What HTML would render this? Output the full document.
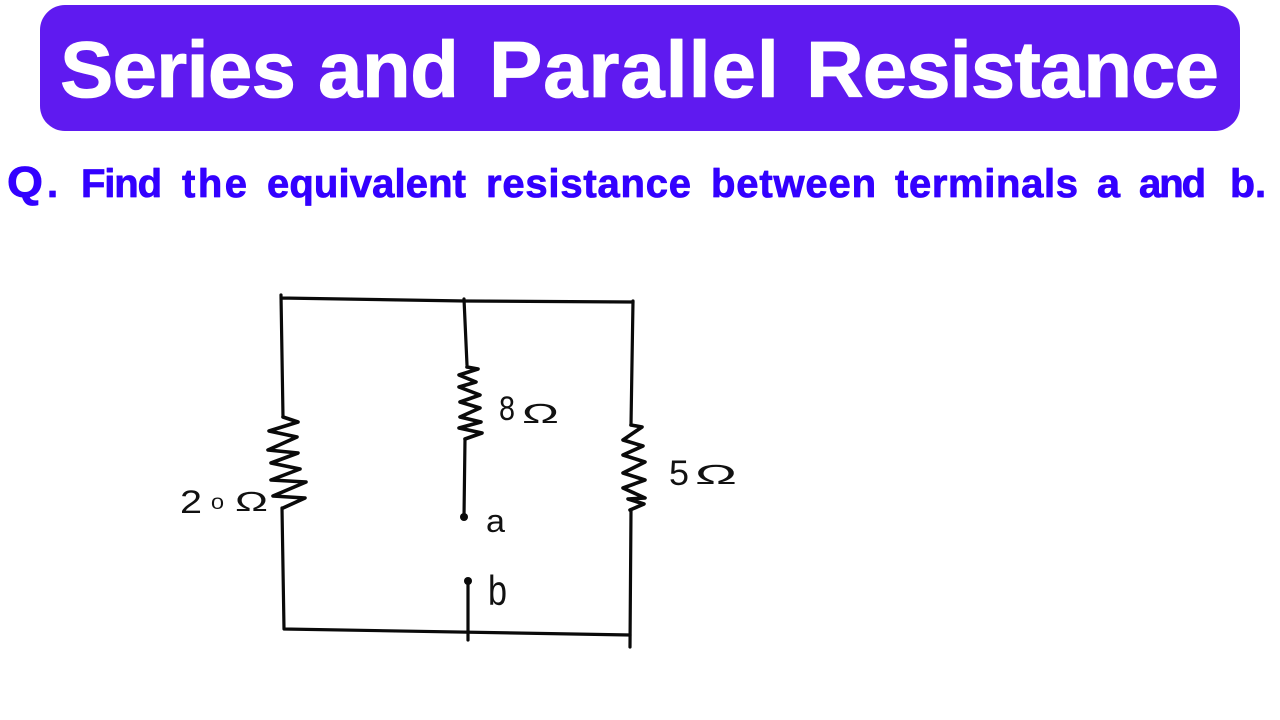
<!DOCTYPE html>
<html>
<head>
<meta charset="utf-8">
<style>
html,body{margin:0;padding:0;background:#fff;width:1280px;height:720px;overflow:hidden}
svg{display:block}
.w{fill:none;stroke:#0a0a0a;stroke-width:3.2;stroke-linecap:round;stroke-linejoin:round}
.r{fill:none;stroke:#0a0a0a;stroke-width:3.6;stroke-linecap:round;stroke-linejoin:round}
.l{font-family:"Liberation Sans","DejaVu Sans",sans-serif;fill:#111;font-weight:400}
.t{font-family:"Liberation Sans",sans-serif;font-weight:700;font-size:80px;fill:#fff;stroke:#fff;stroke-width:.8;stroke-linejoin:round}
.q{font-family:"Liberation Sans",sans-serif;font-weight:700;font-size:40px;fill:#3300ff;stroke:#3300ff;stroke-width:.8;stroke-linejoin:round}
</style>
</head>
<body>
<svg width="1280" height="720" viewBox="0 0 1280 720" xmlns="http://www.w3.org/2000/svg">
<rect width="1280" height="720" fill="#fff"/>
<rect x="40" y="5" width="1200" height="126" rx="25" fill="#5f1af0"/>
<text class="t" x="60" y="97" textLength="236">Series</text>
<text class="t" x="318" y="97" textLength="141">and</text>
<text class="t" x="489" y="97" textLength="290">Parallel</text>
<text class="t" x="806" y="97" textLength="413">Resistance</text>

<text class="q" x="7" y="197" style="font-size:44px" textLength="36" lengthAdjust="spacingAndGlyphs">Q</text>
<text class="q" x="47" y="197">.</text>
<text class="q" x="81" y="197" textLength="81">Find</text>
<text class="q" x="182" y="197" textLength="65">the</text>
<text class="q" x="267" y="197" textLength="199">equivalent</text>
<text class="q" x="486" y="197" textLength="205">resistance</text>
<text class="q" x="711" y="197" textLength="165">between</text>
<text class="q" x="895" y="197" textLength="183">terminals</text>
<text class="q" x="1097" y="197" textLength="23" lengthAdjust="spacingAndGlyphs">a</text>
<text class="q" x="1139" y="197" textLength="67">and</text>
<text class="q" x="1230" y="197" textLength="25" lengthAdjust="spacingAndGlyphs">b</text>
<text class="q" x="1255" y="197">.</text>

<path class="w" d="M281 295 L283 417 M281 298 L465 301 L633 302"/>
<path class="r" d="M283 417 L298 422 L269 431 L297 437 L268 450 L298 453 L271 463 L300 469 L271 480 L306 482 L273 496 L305 498 L283 508"/>
<path class="w" d="M282 508 L284 629 L630 635"/>
<path class="w" d="M464 299 L467 365"/>
<path class="r" d="M467 367 L478 369 L459 375 L476 382 L459 387 L480 395 L460 402 L480 408 L460 417 L481 422 L459 428 L482 433 L465 439"/>
<path class="w" d="M465 439 L464 517"/>
<circle cx="464" cy="517" r="4" fill="#0a0a0a"/>
<circle cx="468" cy="581" r="4" fill="#0a0a0a"/>
<path class="w" d="M468 581 L468 640"/>
<path class="w" d="M633 301 L631 425"/>
<path class="r" d="M631 425 L642 427 L623 440 L643 446 L623 455 L645 462 L623 473 L645 480 L623 488 L645 498 L628 499 L644 504 L630 510"/>
<path class="w" d="M631 510 L630 647"/>

<text class="l" x="180" y="513" font-size="32" textLength="22" lengthAdjust="spacingAndGlyphs">2</text>
<text class="l" x="211" y="509" font-size="17" textLength="13" lengthAdjust="spacingAndGlyphs">0</text>
<text class="l" x="235" y="511" font-size="28" textLength="33" lengthAdjust="spacingAndGlyphs">Ω</text>
<text class="l" x="499" y="420" font-size="34" textLength="16" lengthAdjust="spacingAndGlyphs">8</text>
<text class="l" x="522" y="423" font-size="28" textLength="37" lengthAdjust="spacingAndGlyphs">Ω</text>
<text class="l" x="669" y="485" font-size="35" textLength="20" lengthAdjust="spacingAndGlyphs">5</text>
<text class="l" x="695" y="484" font-size="28" textLength="42" lengthAdjust="spacingAndGlyphs">Ω</text>
<text class="l" x="486" y="532" font-size="32" textLength="19" lengthAdjust="spacingAndGlyphs">a</text>
<text class="l" x="488" y="605" font-size="42" textLength="19" lengthAdjust="spacingAndGlyphs">b</text>
</svg>
</body>
</html>
